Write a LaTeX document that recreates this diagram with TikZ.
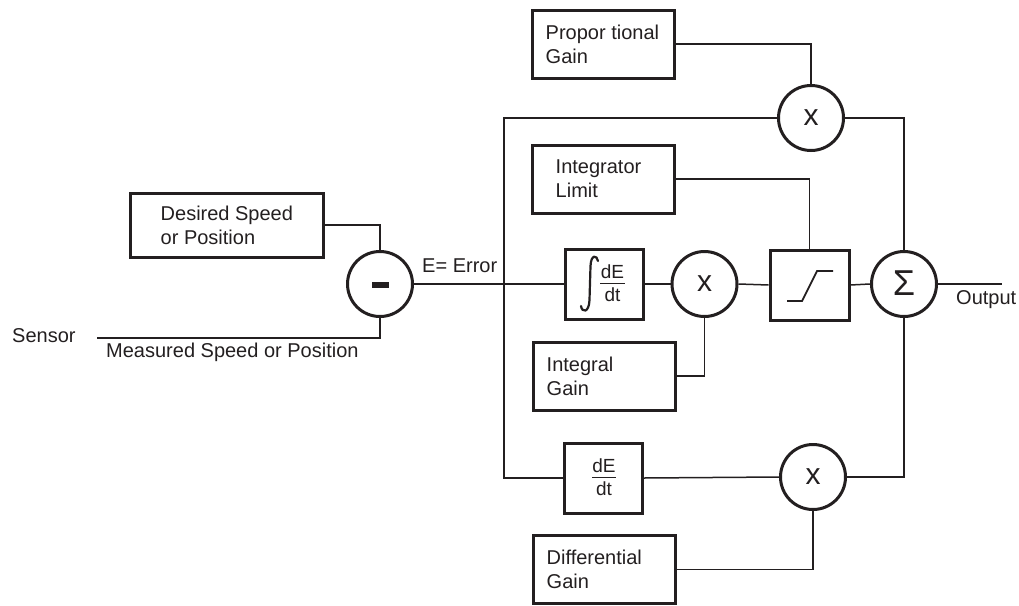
\documentclass[tikz,border=0pt]{standalone}
\usepackage{fontspec}
\setmainfont{Liberation Sans}
\definecolor{ink}{HTML}{231F20}
\begin{document}
\begin{tikzpicture}[x=1pt,y=-1pt,
  every node/.style={text=ink},
  gbox/.style={draw=ink, line width=3pt, minimum width=142pt, minimum height=68pt, inner sep=0pt},
  sbox/.style={draw=ink, line width=3pt, minimum width=78pt, minimum height=70pt, inner sep=0pt},
  op/.style={draw=ink, circle, line width=3pt, minimum size=65pt, inner sep=0pt},
  lbl/.style={font=\fontsize{20}{24}\selectfont, align=left, anchor=west, inner sep=0pt},
  frac/.style={font=\fontsize{19}{20}\selectfont, anchor=base, inner sep=0pt},
  opx/.style={font=\fontsize{30}{30}\selectfont},
  wire/.style={draw=ink, line width=1.5pt}]
\useasboundingbox (0,0) rectangle (1019,605);

% gain boxes
\node[gbox, minimum width=193pt, minimum height=64pt] (ds) at (226.5,225) {};
\node[lbl] at ([xshift=32pt]ds.west) {Desired Speed\\or Position};
\node[gbox] (pg) at (603,44) {};
\node[lbl] at ([xshift=15pt]pg.west) {Propor tional\\Gain};
\node[gbox] (lim) at (603,179) {};
\node[lbl] at ([xshift=25pt]lim.west) {Integrator\\Limit};
\node[gbox] (ig) at (604,376) {};
\node[lbl] at ([xshift=15pt]ig.west) {Integral\\Gain};
\node[gbox] (dg) at (604,569.5) {};
\node[lbl] at ([xshift=15pt]dg.west) {Differential\\Gain};

% operators
\node[op] (mi) at (380,284) {};
\fill[ink] (371.5,281.5) rectangle (388.5,288);
\node[op] (pm) at (811,118) {};
\node[opx] at (pm) {x};
\node[op] (im) at (704.5,284) {};
\node[opx] at (im) {x};
\node[op] (dm) at (813,477) {};
\node[opx] at (dm) {x};
\node[op] (sig) at (904,284) {};
\node[font=\fontsize{36}{38}\selectfont] at (904,283) {Σ};

% integrator block
\node[sbox] (int) at (604,284) {};
\draw[ink, line width=2.2pt, line cap=round] (598,261) .. controls (597,255) and (591,254) .. (590.5,266) -- (589.5,300) .. controls (589,313) and (582,313) .. (581,306);
\node[frac] at (612.5,278) {dE};
\draw[ink, line width=1.8pt] (600,283.5) -- (625,283.5);
\node[frac] at (612.5,301) {dt};

% differentiator block
\node[sbox] (dd) at (603.5,478) {};
\node[frac] at (604,472) {dE};
\draw[ink, line width=1.8pt] (592,477.5) -- (616,477.5);
\node[frac] at (604,495) {dt};

% saturation block
\node[sbox, minimum width=79pt] (sat) at (809.5,285) {};
\draw[ink, line width=1.8pt] (787,301) -- (802,301) -- (817,271) -- (833,271);

% free ends
\coordinate (sens) at (97,338);
\coordinate (bus) at (504,284);
\coordinate (out) at (1002,284);

% labels
\node[lbl] at (12,336) {Sensor};
\node[lbl] at (106,352) {Measured Speed or Position};
\node[lbl] at (422,266) {E= Error};
\node[lbl] at (956,300) {Output};

% wires
\draw[wire] (ds.east) -| (mi.north);
\draw[wire] (sens) -| (mi.south);
\draw[wire] (mi.east) -- (int.west);
\draw[wire] (pm.west) -| (bus) |- (dd.west);
\draw[wire] (int.east) -- (im.west);
\draw[wire] (im.east) -- (sat.west);
\draw[wire] (sat.east) -- (sig.west);
\draw[wire] (sig.east) -- (out);
\draw[wire] (lim.east) -| (sat.north);
\draw[wire] (ig.east) -| (im.south);
\draw[wire] (pg.east) -| (pm.north);
\draw[wire] (pm.east) -| (sig.north);
\draw[wire] (dm.east) -| (sig.south);
\draw[wire] (dd.east) -- (dm.west);
\draw[wire] (dg.east) -| (dm.south);
\end{tikzpicture}
\end{document}
